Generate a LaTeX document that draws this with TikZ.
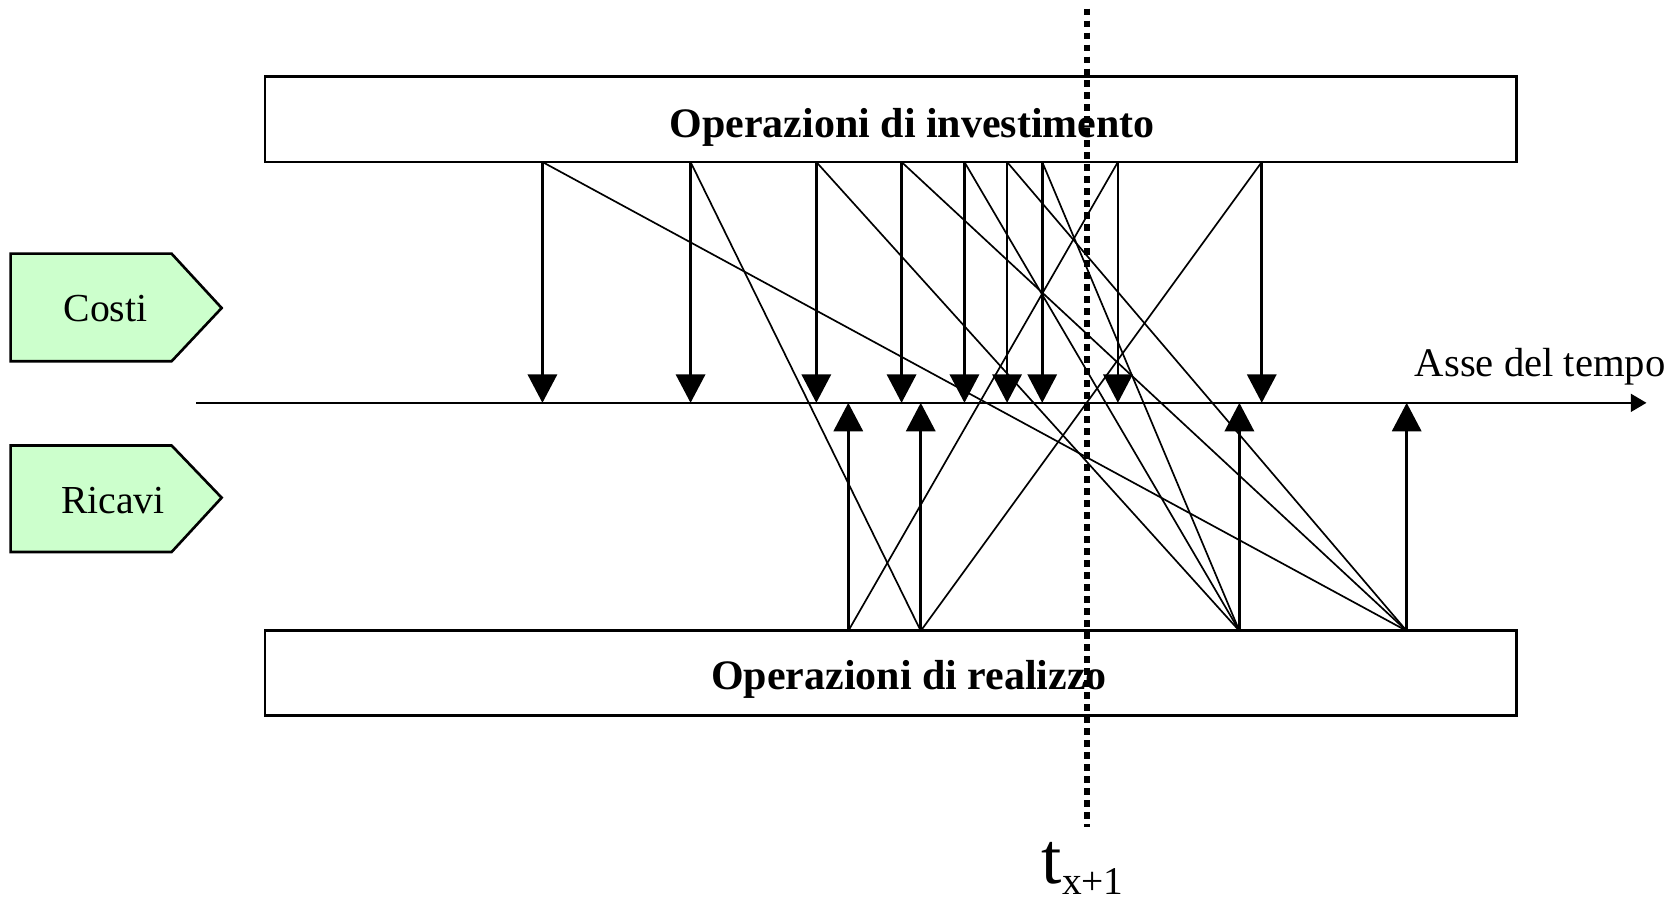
\documentclass[tikz,border=0pt]{standalone}
\usepackage{fontspec}
\setmainfont{Liberation Serif}
\usetikzlibrary{arrows.meta}
\definecolor{tagfill}{HTML}{CCFFCC}
\begin{document}
\begin{tikzpicture}[x=0.01cm,y=-0.01cm,
  opbox/.style={draw, line width=0.75pt, minimum width=11.74cm, inner sep=0pt},
  oplabel/.style={anchor=base, inner sep=0pt, font=\fontsize{11.2}{13}\selectfont\bfseries},
  tagshape/.style={draw, line width=0.7pt, fill=tagfill},
  taglabel/.style={anchor=base, inner sep=0pt, font=\fontsize{10.6}{12}\selectfont},
  flow/.style={-{Triangle[length=7.6pt,width=7.8pt]}, line width=0.7pt},
  diag/.style={line width=0.45pt},
  axis/.style={-{Triangle[length=4.2pt,width=4.8pt]}, line width=0.55pt},
  cut/.style={line width=1.35pt, dash pattern=on 1.8pt off 1.4pt}]
\useasboundingbox (0,0) rectangle (1568,847);

% boxes
\node[opbox, minimum height=0.8cm] (inv) at (836,112) {};
\node[opbox, minimum height=0.79cm] (real) at (836,631.5) {};
\node[oplabel] (invt) at (856,129) {Operazioni di investimento};
\node[oplabel] (realt) at (853,647) {Operazioni di realizzo};

% tags
\draw[tagshape] (10,238) -- (161,238) -- (208,289) -- (161,339) -- (10,339) -- cycle;
\draw[tagshape] (10,418) -- (161,418) -- (208,467) -- (161,518) -- (10,518) -- cycle;
\node[taglabel] (costi) at (99,302) {Costi};
\node[taglabel] (ricavi) at (106,482) {Ricavi};

% time axis
\coordinate (axL) at (184,378);
\coordinate (axR) at (1545,378);
\draw[axis] (axL) -- (axR);
\node[anchor=base west, inner sep=0pt, font=\fontsize{10.85}{12}\selectfont] (asse) at (1327,353) {Asse del tempo};

% top points
\coordinate (T1) at (509,152);
\coordinate (T2) at (648,152);
\coordinate (T3) at (766,152);
\coordinate (T4) at (846,152);
\coordinate (T5) at (905,152);
\coordinate (T6) at (945,152);
\coordinate (T7) at (978,152);
\coordinate (T8) at (1049,152);
\coordinate (T9) at (1184,152);
% bottom points
\coordinate (B1) at (796,592);
\coordinate (B2) at (864,592);
\coordinate (B3) at (1163,592);
\coordinate (B4) at (1320,592);

\foreach \p in {T1,T2,T3,T4,T5,T6,T7,T8,T9,B1,B2,B3,B4}
  \draw[flow] (\p) -- (\p |- axL);

\draw[diag] (T1) -- (B4);
\draw[diag] (T2) -- (B2);
\draw[diag] (T3) -- (B3);
\draw[diag] (T4) -- (B4);
\draw[diag] (T5) -- (B3);
\draw[diag] (T6) -- (B4);
\draw[diag] (T7) -- (B3);
\draw[diag] (T8) -- (B1);
\draw[diag] (T9) -- (B2);

% cut line
\coordinate (cutTop) at (1020,8);
\coordinate (cutBot) at (1020,776);
\draw[cut] (cutTop) -- (cutBot);
\node[anchor=base, inner sep=0pt] (tlab) at (1016,829) {{\fontsize{19.5}{21}\selectfont t}{\fontsize{10.5}{12}\selectfont\raisebox{-3pt}{x+1}}};
\end{tikzpicture}
\end{document}
